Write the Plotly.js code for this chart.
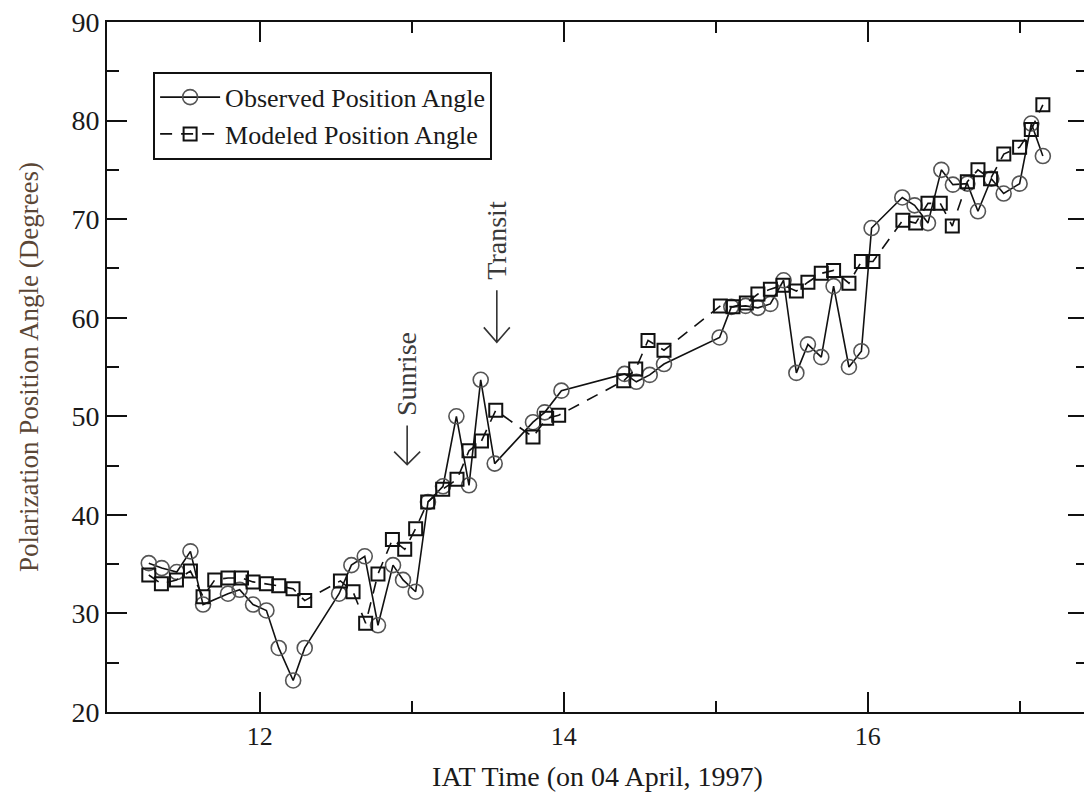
<!DOCTYPE html>
<html>
<head>
<meta charset="utf-8">
<script src="https://cdn.plot.ly/plotly-3.0.1.min.js"></script>
<style>
html,body{margin:0;padding:0;overflow:hidden;background:#fff;}
#chart{width:1090px;height:802px;}
</style>
</head>
<body>
<div id="chart"></div>
<script>
// Observed position angle (circles, solid line)
const obsTime = [11.270,11.355,11.454,11.544,11.627,11.791,11.868,11.956,12.044,12.125,12.220,12.296,
  12.522,12.603,12.691,12.778,12.877,12.943,13.026,13.107,13.206,13.294,13.377,13.454,13.546,
  13.798,13.875,13.985,14.401,14.478,14.566,14.660,15.026,15.103,15.197,15.278,15.360,15.447,
  15.531,15.607,15.695,15.776,15.877,15.959,16.026,16.228,16.309,16.397,16.485,16.561,16.656,
  16.726,16.814,16.895,17.000,17.077,17.153];
const obsAngle = [35.1,34.6,34.2,36.3,30.9,32.0,32.4,30.9,30.3,26.5,23.2,26.5,
  32.0,34.9,35.8,28.8,34.9,33.4,32.2,41.3,42.9,50.0,43.0,53.7,45.2,
  49.4,50.4,52.6,54.3,53.5,54.2,55.3,58.0,61.1,61.2,61.0,61.4,63.8,
  54.4,57.3,56.0,63.2,55.0,56.6,69.1,72.2,71.4,69.6,75.0,73.5,73.6,
  70.8,74.1,72.6,73.6,79.7,76.4];

// Modeled position angle (squares, dashed line)
const modTime = [11.270,11.353,11.452,11.544,11.627,11.704,11.791,11.880,11.956,12.044,12.125,12.219,12.296,
  12.531,12.614,12.697,12.778,12.873,12.954,13.026,13.105,13.204,13.298,13.377,13.459,13.553,
  13.798,13.888,13.967,14.395,14.474,14.555,14.660,15.031,15.114,15.202,15.278,15.360,15.443,
  15.531,15.607,15.695,15.776,15.877,15.959,16.035,16.232,16.316,16.397,16.478,16.557,16.656,
  16.726,16.809,16.896,17.000,17.077,17.153];
const modAngle = [33.9,33.0,33.4,34.3,31.7,33.4,33.6,33.6,33.2,33.0,32.8,32.5,31.3,
  33.3,32.2,29.0,34.0,37.5,36.5,38.6,41.3,42.6,43.6,46.5,47.5,50.6,
  47.9,49.8,50.1,53.6,54.8,57.7,56.7,61.2,61.1,61.5,62.4,62.9,63.3,
  62.7,63.6,64.5,64.8,63.5,65.7,65.7,69.9,69.6,71.6,71.6,69.3,73.8,
  75.0,74.1,76.6,77.3,79.1,81.6];

// Event annotations
const eventNames = ['Sunrise','Transit'];
const eventTime = [12.97,13.56];
const eventTextY = [54.3,67.9];
const eventArrowTipY = [45.1,57.5];

const FONT = 'Liberation Serif, Times New Roman, serif';

const traces = [
  {x: obsTime, y: obsAngle, name: 'Observed Position Angle', type: 'scatter', mode: 'lines+markers',
   line: {color: '#111', width: 1.6},
   marker: {symbol: 'circle-open', size: 15, color: '#555', line: {width: 1.6, color: '#555'}}},
  {x: modTime, y: modAngle, name: 'Modeled Position Angle', type: 'scatter', mode: 'lines+markers',
   line: {color: '#111', width: 1.6, dash: '12px,9px'},
   marker: {symbol: 'square-open', size: 13, color: '#111', line: {width: 2, color: '#111'}}}
];

const annotations = eventNames.map((n,i) => ({
  x: eventTime[i], y: eventTextY[i], xref: 'x', yref: 'y', text: n, showarrow: false,
  textangle: -90, font: {family: FONT, size: 28, color: '#3a3a3a'}
}));

const shapes = eventNames.map((n,i) => ({
  type: 'path', xref: 'x', yref: 'y', xsizemode: 'pixel', ysizemode: 'pixel',
  xanchor: eventTime[i], yanchor: eventArrowTipY[i],
  path: i === 0 ? 'M0,0 L0,39 M-13,13 L0,0 L13,13' : 'M0,0 L0,52 M-13,15 L0,0 L13,15',
  line: {color: '#333', width: 1.6}
}));

const axisCommon = {
  showline: true, linecolor: '#111', linewidth: 2, mirror: 'ticks',
  ticks: 'inside', ticklen: 20, tickwidth: 2, tickcolor: '#111',
  showgrid: false, zeroline: false,
  tickfont: {family: FONT, size: 26, color: '#1a1a1a'}
};

const layout = {
  width: 1090, height: 802,
  margin: {l: 107, r: 2, t: 22, b: 90},
  paper_bgcolor: '#fff', plot_bgcolor: '#fff',
  font: {family: FONT},
  xaxis: Object.assign({}, axisCommon, {
    range: [10.995, 17.45], tickvals: [12,14,16],
    minor: {tickvals: [13,15,17], ticks: 'inside', ticklen: 11, tickwidth: 2, tickcolor: '#111'},
    title: {text: 'IAT Time (on 04 April, 1997)', font: {family: FONT, size: 28, color: '#1a1a1a'}, standoff: 16}
  }),
  yaxis: Object.assign({}, axisCommon, {
    range: [20, 90], dtick: 10,
    tickfont: {family: FONT, size: 28, color: '#1a1a1a'},
    minor: {dtick: 5, ticks: 'inside', ticklen: 12, tickwidth: 2, tickcolor: '#111'},
    title: {text: 'Polarization Position Angle (Degrees)', font: {family: FONT, size: 27, color: '#5a4636'}, standoff: 25}
  }),
  showlegend: true,
  legend: {x: 0.047, y: 0.928, xanchor: 'left', yanchor: 'top',
    bordercolor: '#111', borderwidth: 2, bgcolor: '#fff',
    font: {family: FONT, size: 26, color: '#1a1a1a'}, itemwidth: 60, tracegroupgap: 0},
  annotations: annotations,
  shapes: shapes
};

Plotly.newPlot('chart', traces, layout, {displayModeBar: false, staticPlot: true});
</script>
</body>
</html>
